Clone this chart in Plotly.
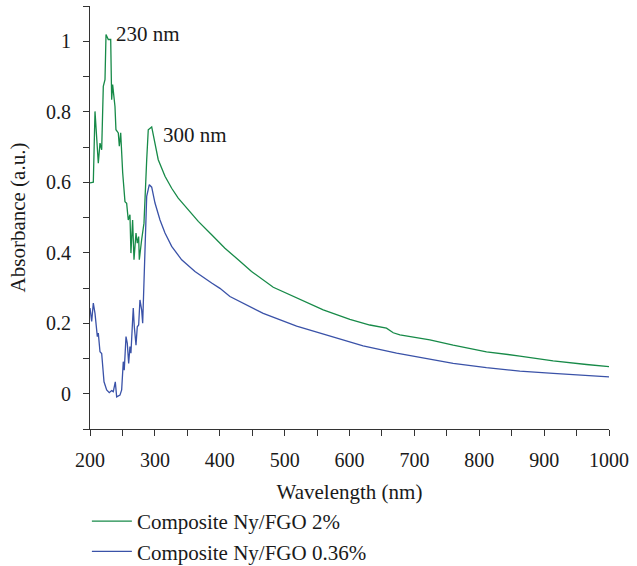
import plotly.graph_objects as go

# UV-Vis absorbance spectra of the two nylon / functionalised graphene oxide composites
wl_2pct = [200, 205.1, 207.7, 212.8, 215.4, 218, 220.5, 223.1, 224.7, 228.2, 231.9, 233.4,
           234.9, 238.5, 240, 243.6, 245.2, 247.3, 250.4, 253.9, 256.5, 259, 261.6, 263.1,
           265.7, 267.8, 270.9, 272.9, 275, 276, 279.6, 283.2, 287.4, 289.8, 295.1, 297.6,
           305.2, 315.6, 325.9, 336, 351.5, 366.9, 387.5, 408, 428.5, 449, 482.5, 518.5,
           559.5, 600.6, 631.4, 657, 667.4, 677.7, 708.5, 723.9, 759.8, 811.2, 862.6, 913.9,
           965.3, 1000]
abs_2pct = [0.598, 0.600, 0.801, 0.654, 0.711, 0.692, 0.872, 0.891, 1.019, 1.005, 1.005, 0.834,
            0.877, 0.815, 0.749, 0.740, 0.702, 0.740, 0.626, 0.545, 0.540, 0.493, 0.508, 0.399,
            0.493, 0.380, 0.456, 0.427, 0.446, 0.380, 0.437, 0.484, 0.664, 0.749, 0.757, 0.735,
            0.664, 0.617, 0.583, 0.555, 0.522, 0.489, 0.451, 0.413, 0.380, 0.347, 0.302, 0.271,
            0.238, 0.211, 0.195, 0.186, 0.173, 0.167, 0.157, 0.153, 0.138, 0.119, 0.107, 0.093,
            0.083, 0.077]

wl_036pct = [200, 201.5, 202.6, 205.1, 207.7, 211.3, 212.8, 215.4, 218, 221.6, 225.7, 229.7,
             233.4, 235.9, 239, 241.1, 243.6, 246.2, 248.8, 251.3, 252.8, 255.5, 257.5, 259.6,
             261.6, 263.1, 265.7, 266.7, 268.3, 270.9, 272.9, 275, 277, 279.6, 281.2, 283.2,
             285.8, 287.4, 291.4, 295.1, 300.2, 307.9, 315.6, 325.9, 341.3, 361.8, 387.5, 400.3,
             415.7, 467, 518.5, 569.8, 621, 672.6, 708.5, 723.9, 759.8, 811, 862.6, 914, 965,
             1000]
abs_036pct = [0.243, 0.214, 0.205, 0.257, 0.228, 0.162, 0.172, 0.119, 0.114, 0.034, 0.011, 0.003,
              0.009, 0.006, 0.034, -0.009, -0.007, -0.004, 0.011, 0.091, 0.067, 0.162, 0.143, 0.086,
              0.134, 0.115, 0.209, 0.243, 0.190, 0.138, 0.190, 0.195, 0.266, 0.238, 0.200, 0.304,
              0.418, 0.560, 0.593, 0.586, 0.541, 0.493, 0.456, 0.418, 0.380, 0.347, 0.314, 0.299,
              0.276, 0.228, 0.192, 0.164, 0.136, 0.115, 0.103, 0.099, 0.086, 0.074, 0.064, 0.058,
              0.051, 0.048]

peak_labels = ["230 nm", "300 nm"]
peak_label_x = [238, 311]
peak_label_y = [1.02, 0.735]

GREEN = "#178a48"
BLUE = "#3a52a8"
INK = "#1a1a1a"
FONT = "Liberation Serif"
TEXT_SIZE = 21
TICK_SIZE = 20

fig = go.Figure()
fig.add_trace(go.Scatter(x=wl_2pct, y=abs_2pct, mode="lines", name="Composite Ny/FGO 2%",
                         line=dict(color=GREEN, width=1.3), legendgroup="a"))
fig.add_trace(go.Scatter(x=wl_036pct, y=abs_036pct, mode="lines", name="Composite Ny/FGO 0.36%",
                         line=dict(color=BLUE, width=1.3), legendgroup="b"))

for txt, xv, yv in zip(peak_labels, peak_label_x, peak_label_y):
    fig.add_annotation(x=xv, y=yv, text=txt, showarrow=False, xanchor="left", yanchor="middle",
                       xshift=-1, font=dict(family=FONT, size=TEXT_SIZE, color=INK))

axis_common = dict(showline=True, linecolor="#333333", linewidth=1.2, ticks="outside",
                   ticklen=6, tickwidth=1.2, tickcolor="#333333", showgrid=False, zeroline=False,
                   tickfont=dict(family=FONT, size=TICK_SIZE, color=INK))
minor_common = dict(ticks="outside", ticklen=6, tickwidth=1.2, tickcolor="#333333")

fig.update_xaxes(range=[200, 1000], dtick=100, tick0=200, ticklabelstandoff=7,
                 minor=dict(dtick=50, **minor_common),
                 title=dict(text="Wavelength (nm)", font=dict(family=FONT, size=TEXT_SIZE, color=INK),
                            standoff=14),
                 **axis_common)
fig.update_yaxes(range=[-0.1, 1.1], dtick=0.2, tick0=0, ticklabelstandoff=8,
                 minor=dict(dtick=0.1, tick0=0, **minor_common),
                 title=dict(text="Absorbance (a.u.)", font=dict(family=FONT, size=TEXT_SIZE, color=INK),
                            standoff=14),
                 **axis_common)

fig.update_layout(
    width=637, height=566,
    margin=dict(l=90, r=28, t=6, b=137, autoexpand=False),
    paper_bgcolor="white", plot_bgcolor="white",
    showlegend=True,
    legend=dict(x=-0.006, y=-0.17, xanchor="left", yanchor="top", orientation="v",
                font=dict(family=FONT, size=TEXT_SIZE, color=INK), tracegroupgap=0,
                itemwidth=40, bgcolor="rgba(0,0,0,0)"),
)

fig.write_html("out.html")
